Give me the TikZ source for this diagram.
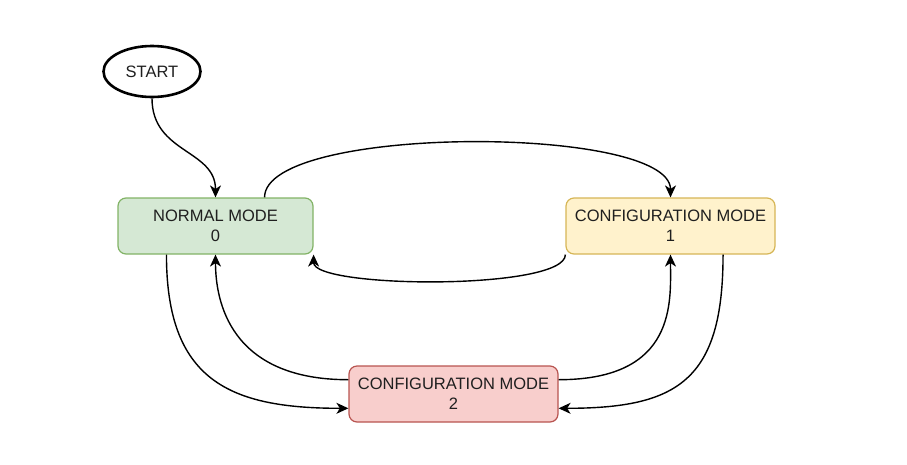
\documentclass[tikz,border=0pt]{standalone}
\usepackage{fontspec}
\setmainfont{Liberation Sans}
\usetikzlibrary{arrows.meta,shapes.geometric,calc}
\definecolor{gfill}{HTML}{D5E8D4}
\definecolor{gline}{HTML}{82B366}
\definecolor{yfill}{HTML}{FFF2CC}
\definecolor{yline}{HTML}{D6B656}
\definecolor{rfill}{HTML}{F8CECC}
\definecolor{rline}{HTML}{B85450}
\tikzset{
  modebox/.style={rectangle, rounded corners=8pt, draw, line width=1.2pt,
    minimum height=56pt, inner sep=2pt, align=center,
    font=\fontsize{16.5}{19.8}\selectfont, text=black!88},
  startnode/.style={ellipse, draw=black, line width=2.6pt, minimum width=97pt,
    minimum height=51pt, inner sep=0pt, font=\fontsize{16.5}{19.8}\selectfont, text=black!88},
  conn/.style={line width=1.4pt, -{Stealth[length=12pt,width=11pt,inset=3.5pt]}},
}
\begin{document}
\begin{tikzpicture}[x=1pt,y=-1pt]
\useasboundingbox (0,0) rectangle (907,464);
\node[startnode] (start) at (152,71.5) {START};
\node[modebox, fill=gfill, draw=gline, minimum width=195pt] (nm) at (215.5,226) {NORMAL MODE\\0};
\node[modebox, fill=yfill, draw=yline, minimum width=209pt] (c1) at (670.5,226) {CONFIGURATION MODE\\1};
\node[modebox, fill=rfill, draw=rline, minimum width=209pt] (c2) at (453.5,394) {CONFIGURATION MODE\\2};
\coordinate (nmT) at ($(nm.north west)!0.75!(nm.north east)$);
\coordinate (nmB) at ($(nm.south west)!0.25!(nm.south east)$);
\coordinate (c1B) at ($(c1.south west)!0.75!(c1.south east)$);
\coordinate (c2LU) at ($(c2.north west)!0.25!(c2.south west)$);
\coordinate (c2LD) at ($(c2.north west)!0.75!(c2.south west)$);
\coordinate (c2RU) at ($(c2.north east)!0.25!(c2.south east)$);
\coordinate (c2RD) at ($(c2.north east)!0.75!(c2.south east)$);
\draw[conn] (start.south) .. controls +(0,55) and +(0,-48) .. (nm.north);
\draw[conn] (nmT) .. controls +(0,-73) and +(0,-73) .. (c1.north);
\draw[conn] (c1.south west) .. controls +(0,36) and +(0,34) .. (nm.south east);
\draw[conn] (nmB) .. controls +(0,126) and +(-119,0) .. (c2LD);
\draw[conn] (c2LU) .. controls +(-119,0) and +(0,46) .. (nm.south);
\draw[conn] (c2RU) .. controls +(119,0) and +(0,46) .. (c1.south);
\draw[conn] (c1B) .. controls +(0,126) and +(119,0) .. (c2RD);
\end{tikzpicture}
\end{document}
